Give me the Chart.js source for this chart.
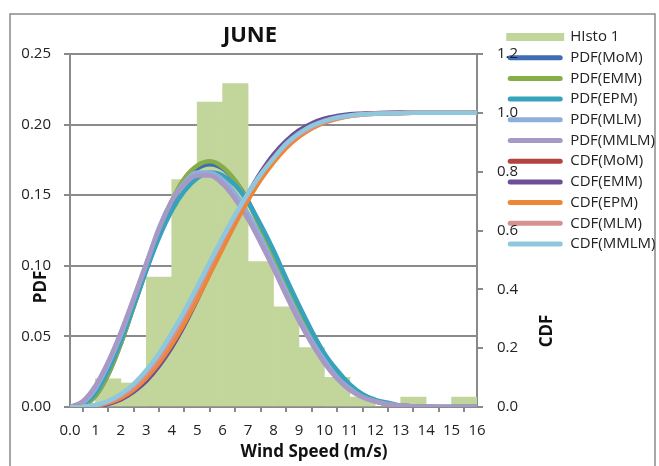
<!DOCTYPE html>
<html>
<head>
<meta charset="utf-8">
<script src="https://cdn.jsdelivr.net/npm/chart.js@4.4.1/dist/chart.umd.min.js"></script>
<style>
  html, body { margin: 0; padding: 0; background: #fff; }
  canvas { display: block; }
</style>
</head>
<body>
<canvas id="chart" width="659" height="466"></canvas>
<script>
// wind speed grid for the fitted curves (m/s)
const speeds = [0, 0.5, 1, 1.5, 2, 2.5, 3, 3.5, 4, 4.5, 5, 5.5, 6, 6.5, 7, 7.5, 8,
  8.5, 9, 9.5, 10, 10.5, 11, 11.5, 12, 12.5, 13, 13.5, 14, 14.5, 15, 15.5, 16];

// histogram bins (1 m/s wide)
const binCenters = [0.5, 1.5, 2.5, 3.5, 4.5, 5.5, 6.5, 7.5, 8.5, 9.5, 10.5, 11.5, 12.5, 13.5, 14.5, 15.5];
const histo = [0, 0.020, 0.017, 0.092, 0.161, 0.216, 0.229, 0.103, 0.071, 0.042, 0.021, 0.007, 0, 0.007, 0, 0.007];

// PDF curves (left axis)
const pdfMoM  = [0, 0.001, 0.008, 0.023, 0.045, 0.071, 0.097, 0.122, 0.144, 0.160, 0.169, 0.172, 0.169, 0.160, 0.146, 0.127, 0.107,
  0.087, 0.067, 0.050, 0.035, 0.023, 0.014, 0.008, 0.004, 0.002, 0.001, 0.0003, 0.0001, 0, 0, 0, 0];
const pdfEMM  = [0, 0.001, 0.008, 0.023, 0.045, 0.071, 0.098, 0.124, 0.146, 0.162, 0.171, 0.174, 0.170, 0.160, 0.145, 0.126, 0.106,
  0.085, 0.066, 0.049, 0.034, 0.022, 0.014, 0.008, 0.004, 0.002, 0.001, 0.0003, 0.0001, 0, 0, 0, 0];
const pdfEPM  = [0, 0.002, 0.010, 0.026, 0.047, 0.072, 0.097, 0.120, 0.139, 0.153, 0.162, 0.166, 0.164, 0.157, 0.145, 0.129, 0.111,
  0.091, 0.072, 0.054, 0.038, 0.026, 0.016, 0.009, 0.005, 0.003, 0.001, 0.0004, 0.0001, 0, 0, 0, 0];
const pdfMLM  = [0, 0.003, 0.013, 0.030, 0.051, 0.076, 0.101, 0.127, 0.146, 0.159, 0.166, 0.166, 0.161, 0.151, 0.137, 0.120, 0.101,
  0.082, 0.063, 0.047, 0.033, 0.021, 0.013, 0.007, 0.004, 0.002, 0.001, 0.0003, 0.0001, 0, 0, 0, 0];
const pdfMMLM = [0, 0.004, 0.015, 0.032, 0.053, 0.077, 0.102, 0.126, 0.146, 0.158, 0.164, 0.164, 0.158, 0.147, 0.133, 0.116, 0.098,
  0.079, 0.061, 0.045, 0.031, 0.020, 0.012, 0.007, 0.004, 0.002, 0.001, 0.0004, 0.0001, 0, 0, 0, 0];

// CDF curves (right axis)
const cdfMoM  = [0, 0.0005, 0.004, 0.012, 0.029, 0.057, 0.096, 0.148, 0.212, 0.288, 0.372, 0.462, 0.553, 0.641, 0.722, 0.792, 0.852,
  0.899, 0.934, 0.959, 0.976, 0.987, 0.993, 0.996, 0.998, 0.999, 1, 1, 1, 1, 1, 1, 1];
const cdfEMM  = [0, 0, 0.003, 0.011, 0.026, 0.052, 0.089, 0.140, 0.203, 0.279, 0.365, 0.457, 0.550, 0.641, 0.724, 0.797, 0.858,
  0.905, 0.940, 0.964, 0.980, 0.989, 0.995, 0.997, 0.999, 1, 1, 1, 1, 1, 1, 1, 1];
const cdfEPM  = [0, 0.0005, 0.004, 0.014, 0.031, 0.059, 0.099, 0.150, 0.213, 0.286, 0.367, 0.453, 0.539, 0.624, 0.703, 0.773, 0.832,
  0.881, 0.919, 0.947, 0.967, 0.980, 0.989, 0.994, 0.997, 0.998, 0.999, 1, 1, 1, 1, 1, 1];
const cdfMLM  = [0, 0.001, 0.005, 0.017, 0.038, 0.069, 0.113, 0.168, 0.235, 0.311, 0.394, 0.480, 0.566, 0.648, 0.723, 0.790, 0.846,
  0.891, 0.926, 0.951, 0.969, 0.981, 0.989, 0.994, 0.997, 0.998, 0.999, 1, 1, 1, 1, 1, 1];
const cdfMMLM = [0, 0.001, 0.007, 0.020, 0.044, 0.078, 0.125, 0.182, 0.251, 0.327, 0.409, 0.493, 0.576, 0.655, 0.727, 0.791, 0.845,
  0.895, 0.930, 0.956, 0.973, 0.984, 0.991, 0.995, 0.997, 0.998, 0.999, 1, 1, 1, 1, 1, 1];

const xTickLabels = ['0.0', '1', '2', '3', '4', '5', '6', '7', '8', '9', '10', '11', '12', '13', '14', '15', '16'];

const chartTitle = 'JUNE';
const xTitle = 'Wind Speed (m/s)';
const yTitle = 'PDF';
const y1Title = 'CDF';

const FONT = '"Open Sans", "DejaVu Sans", sans-serif';
const gridGrey = '#8a8a8a';

function toPoints(values) {
  return values.map(function(v, i) { return {x: speeds[i], y: v}; });
}

function curve(label, values, color, axis, order) {
  return {
    type: 'line',
    label: label,
    data: toPoints(values),
    yAxisID: axis,
    borderColor: color,
    backgroundColor: color,
    borderWidth: 4.5,
    borderCapStyle: 'round',
    pointRadius: 0,
    pointHoverRadius: 0,
    cubicInterpolationMode: 'monotone',
    fill: false,
    order: order
  };
}

// frame round the chart + title texts (placed like the Excel layout)
const frameAndTitles = {
  id: 'frameAndTitles',
  beforeDraw(chart) {
    let ctx = chart.ctx;
    ctx.save();
    ctx.fillStyle = '#fff';
    ctx.fillRect(0, 0, chart.width, chart.height);
    ctx.strokeStyle = gridGrey;
    ctx.lineWidth = 1.5;
    ctx.strokeRect(10, 14, 645, 470);
    ctx.restore();
  },
  afterDraw(chart) {
    let ctx = chart.ctx;
    ctx.save();
    ctx.fillStyle = '#111';
    ctx.textAlign = 'center';
    ctx.textBaseline = 'middle';
    ctx.font = 'bold 22px ' + FONT;
    ctx.fillText(chartTitle, 250, 36);
    ctx.font = 'bold 17px ' + FONT;
    ctx.fillText(xTitle, 314, 452);
    ctx.save();
    ctx.translate(41, 287);
    ctx.rotate(-Math.PI / 2);
    ctx.fillText(yTitle, 0, 0);
    ctx.restore();
    ctx.translate(547, 331);
    ctx.rotate(-Math.PI / 2);
    ctx.fillText(y1Title, 0, 0);
    ctx.restore();
  }
};

let ctx = document.getElementById('chart');
let lineChart = new Chart(ctx, {
  type: 'line',
  plugins: [frameAndTitles],
  data: {
    datasets: [
      {
        type: 'bar',
        label: 'HIsto 1',
        data: histo.map(function(v, i) { return {x: binCenters[i], y: v}; }),
        yAxisID: 'y',
        backgroundColor: 'rgb(194,214,155)',
        borderWidth: 0,
        barPercentage: 1,
        categoryPercentage: 1,
        order: 20
      },
      curve('PDF(MoM)', pdfMoM, '#3f6db3', 'y', 10),
      curve('PDF(EMM)', pdfEMM, '#86ad48', 'y', 9),
      curve('PDF(EPM)', pdfEPM, '#37a2bb', 'y', 8),
      curve('PDF(MLM)', pdfMLM, '#8eaedb', 'y', 7),
      curve('PDF(MMLM)', pdfMMLM, '#a898c6', 'y', 6),
      curve('CDF(MoM)', cdfMoM, '#b4423f', 'y1', 5),
      curve('CDF(EMM)', cdfEMM, '#6c4f98', 'y1', 4),
      curve('CDF(EPM)', cdfEPM, '#ee8636', 'y1', 3),
      curve('CDF(MLM)', cdfMLM, '#d69290', 'y1', 2),
      curve('CDF(MMLM)', cdfMMLM, '#8dc8de', 'y1', 1)
    ]
  },
  options: {
    responsive: false,
    animation: false,
    layout: { padding: { left: 10, right: 0, top: 23.8, bottom: 0 } },
    plugins: {
      title: { display: true, text: '', padding: { top: 6.2, bottom: 0 }, font: { size: 20, lineHeight: 1.2 } },
      tooltip: { enabled: false },
      legend: {
        display: true,
        position: 'right',
        align: 'start',
        maxWidth: 157,
        labels: {
          font: { family: FONT, size: 15 },
          color: '#222',
          boxWidth: 55,
          boxHeight: 5,
          padding: 5.7,
          useBorderRadius: true,
          generateLabels: function(chart) {
            let items = Chart.defaults.plugins.legend.labels.generateLabels(chart);
            items.sort(function(a, b) { return a.datasetIndex - b.datasetIndex; });
            items.forEach(function(item) {
              let ds = chart.data.datasets[item.datasetIndex];
              let isBar = ds.type === 'bar';
              item.fillStyle = isBar ? ds.backgroundColor : ds.borderColor;
              item.strokeStyle = item.fillStyle;
              item.lineWidth = isBar ? 3 : 0;
              item.borderRadius = isBar ? 0 : 2.5;
            });
            return items;
          }
        }
      }
    },
    scales: {
      x: {
        type: 'linear',
        min: 0,
        max: 16,
        offset: false,
        afterFit: function(scale) { scale.height = 59; },
        grid: { display: true, drawOnChartArea: false, drawTicks: true, tickLength: 5, color: gridGrey, lineWidth: 2 },
        border: { display: true, color: gridGrey, width: 2 },
        ticks: {
          stepSize: 1,
          autoSkip: false,
          maxRotation: 0,
          padding: 10,
          color: '#222',
          font: { family: FONT, size: 15 },
          callback: function(value) { return xTickLabels[Math.round(value)]; }
        }
      },
      y: {
        position: 'left',
        min: 0,
        max: 0.25,
        afterFit: function(scale) { scale.width = 60; },
        grid: { color: gridGrey, lineWidth: 2, drawTicks: true, tickLength: 6 },
        border: { display: true, color: gridGrey, width: 2 },
        ticks: {
          stepSize: 0.05,
          padding: 13,
          color: '#222',
          font: { family: FONT, size: 15 },
          callback: function(value) { return value.toFixed(2); }
        }
      },
      y1: {
        position: 'right',
        min: 0,
        max: 1.2,
        afterFit: function(scale) { scale.width = 25; },
        grid: { drawOnChartArea: false, color: gridGrey, lineWidth: 2, drawTicks: true, tickLength: 6 },
        border: { display: true, color: gridGrey, width: 2 },
        ticks: {
          stepSize: 0.2,
          // mirrored so the labels are not clipped to the narrow scale box
          mirror: true,
          crossAlign: 'near',
          padding: 41,
          color: '#222',
          font: { family: FONT, size: 15 },
          callback: function(value) { return value.toFixed(1); }
        }
      }
    }
  }
});
</script>
</body>
</html>
